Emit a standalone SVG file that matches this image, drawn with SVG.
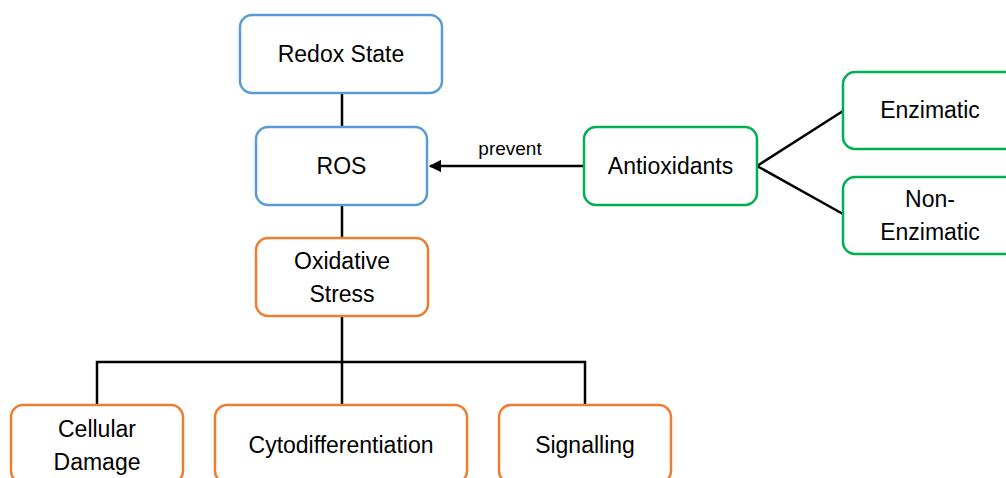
<svg xmlns="http://www.w3.org/2000/svg" width="1006" height="478" viewBox="0 0 1006 478">
  <defs>
    <style>
      .box { fill: #ffffff; stroke-width: 2.5; }
      .blue { stroke: #5B9BD5; }
      .orange { stroke: #ED7D31; }
      .green { stroke: #00B050; }
      .lbl { font-family: "Liberation Sans", Arial, sans-serif; font-size: 23px; fill: #000000; text-anchor: middle; }
      .small { font-size: 19px; }
      .conn { fill: none; stroke: #000000; stroke-width: 2.5; }
    </style>
    <marker id="arrow" viewBox="0 0 10 10" refX="9" refY="5" markerWidth="5" markerHeight="5" orient="auto" markerUnits="strokeWidth">
      <path d="M0,0 L10,5 L0,10 z" fill="#000000"/>
    </marker>
  </defs>
  <rect width="1006" height="478" fill="#ffffff"/>

  <!-- connectors -->
  <g id="connectors">
    <line class="conn" x1="342" y1="93" x2="342" y2="127"/>
    <line class="conn" x1="342" y1="205" x2="342" y2="238"/>
    <path class="conn" d="M342,316 V362 M97,405 V362 H585 V405 M342,362 V405"/>
    <line class="conn" x1="584" y1="166" x2="430" y2="166" marker-end="url(#arrow)"/>
    <text class="lbl small" x="510" y="155">prevent</text>
    <line class="conn" x1="757" y1="166" x2="843" y2="111"/>
    <line class="conn" x1="757" y1="166" x2="843" y2="214"/>
  </g>

  <g id="redox-state">
    <rect class="box blue" x="240" y="15" width="202" height="78" rx="12"/>
    <text class="lbl" x="341" y="62">Redox State</text>
  </g>
  <g id="ros">
    <rect class="box blue" x="256" y="127" width="171" height="78" rx="12"/>
    <text class="lbl" x="341.5" y="174">ROS</text>
  </g>
  <g id="oxidative-stress">
    <rect class="box orange" x="256" y="238" width="172" height="78" rx="12"/>
    <text class="lbl" x="342" y="269">Oxidative</text>
    <text class="lbl" x="342" y="302">Stress</text>
  </g>
  <g id="antioxidants">
    <rect class="box green" x="584" y="127" width="173" height="78" rx="12"/>
    <text class="lbl" x="670.5" y="174">Antioxidants</text>
  </g>
  <g id="enzimatic">
    <rect class="box green" x="843" y="72" width="174" height="77" rx="12"/>
    <text class="lbl" x="930" y="118">Enzimatic</text>
  </g>
  <g id="non-enzimatic">
    <rect class="box green" x="843" y="177" width="174" height="77" rx="12"/>
    <text class="lbl" x="930" y="207">Non-</text>
    <text class="lbl" x="930" y="240">Enzimatic</text>
  </g>
  <g id="cellular-damage">
    <rect class="box orange" x="11" y="405" width="172" height="78" rx="12"/>
    <text class="lbl" x="97" y="437">Cellular</text>
    <text class="lbl" x="97" y="470">Damage</text>
  </g>
  <g id="cytodifferentiation">
    <rect class="box orange" x="215" y="405" width="252" height="78" rx="12"/>
    <text class="lbl" x="341" y="453">Cytodifferentiation</text>
  </g>
  <g id="signalling">
    <rect class="box orange" x="499" y="405" width="172" height="78" rx="12"/>
    <text class="lbl" x="585" y="453">Signalling</text>
  </g>
</svg>
